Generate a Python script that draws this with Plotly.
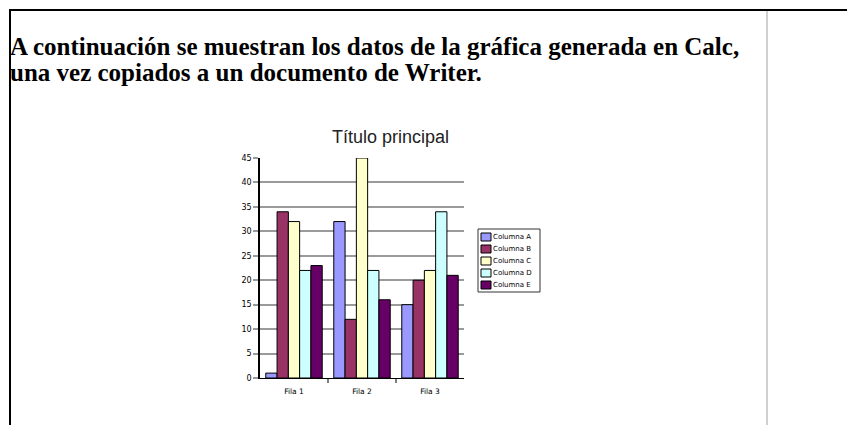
import plotly.graph_objects as go

# Chart data
categorias = ["Fila 1", "Fila 2", "Fila 3"]
series = ["Columna A", "Columna B", "Columna C", "Columna D", "Columna E"]
columna_a = [1, 32, 15]
columna_b = [34, 12, 20]
columna_c = [32, 45, 22]
columna_d = [22, 22, 34]
columna_e = [23, 16, 21]
valores = [columna_a, columna_b, columna_c, columna_d, columna_e]
colores = ["#9999ff", "#993366", "#ffffcc", "#ccffff", "#660066"]
y_ticks = [0, 5, 10, 15, 20, 25, 30, 35, 40, 45]

W, H = 847, 425
PL, PR, PT, PB = 260, 464, 158, 378  # plot area in pixels

FONT = "Arial, Liberation Sans, sans-serif"
SMALL = "DejaVu Sans, Verdana, sans-serif"


def px(x):
    return (x - PL) / (PR - PL)


def py(y):
    return (PB - y) / (PB - PT)


fig = go.Figure()
for nombre, vals, color in zip(series, valores, colores):
    fig.add_trace(go.Bar(
        x=categorias, y=vals, name=nombre,
        marker=dict(color=color, line=dict(color="#000000", width=1)),
    ))

fig.update_layout(
    width=W, height=H,
    margin=dict(l=PL, r=W - PR, t=PT, b=H - PB, pad=0),
    paper_bgcolor="white", plot_bgcolor="white",
    barmode="group", bargap=0.17, bargroupgap=0,
    showlegend=False,
    xaxis=dict(
        showgrid=False, showline=True, linecolor="#000000", linewidth=1,
        ticks="", tickfont=dict(family=SMALL, size=7.5, color="#000000"),
        ticklabelstandoff=6,
    ),
    yaxis=dict(
        range=[0, 45], tickvals=y_ticks, showgrid=True, gridcolor="#9a9a9a", gridwidth=2,
        showline=True, linecolor="#000000", linewidth=1.5, zeroline=False,
        ticks="outside", ticklen=5, tickcolor="#9a9a9a", tickwidth=2,
        tickfont=dict(family=SMALL, size=8, color="#000000"),
    ),
    font=dict(family=FONT),
)

# Category separator ticks below the x axis
for b in [0.5, 1.5]:
    fig.add_shape(type="line", xref="x", yref="paper", x0=b, x1=b, y0=0, y1=py(PB + 5),
                  line=dict(color="#000000", width=1))

# Chart title
fig.add_annotation(text="Título principal", xref="paper", yref="paper",
                   x=px(390), y=py(137), xanchor="center", yanchor="middle",
                   showarrow=False,
                   font=dict(family=FONT, size=18, color="#222222"))

# Compact legend box on the right of the plot
LX0, LX1, LY0, LY1 = 478, 540, 229, 292
fig.add_shape(type="rect", xref="paper", yref="paper",
              x0=px(LX0), x1=px(LX1), y0=py(LY0), y1=py(LY1),
              line=dict(color="#333333", width=1), fillcolor="white")
for i, (nombre, color) in enumerate(zip(series, colores)):
    yc = LY0 + 8 + i * 12
    fig.add_shape(type="rect", xref="paper", yref="paper",
                  x0=px(LX0 + 3), x1=px(LX0 + 13), y0=py(yc - 4), y1=py(yc + 4),
                  line=dict(color="#000000", width=1), fillcolor=color)
    fig.add_annotation(text=nombre, xref="paper", yref="paper",
                       x=px(LX0 + 13), y=py(yc), xanchor="left", yanchor="middle",
                       showarrow=False, font=dict(family=SMALL, size=7, color="#000000"))

# Document frame lines
fig.add_shape(type="line", xref="paper", yref="paper", x0=px(9), x1=px(W + 5), y0=py(10), y1=py(10),
              line=dict(color="#000000", width=2))
fig.add_shape(type="line", xref="paper", yref="paper", x0=px(10), x1=px(10), y0=py(9), y1=py(H + 5),
              line=dict(color="#000000", width=2))
fig.add_shape(type="line", xref="paper", yref="paper", x0=px(767), x1=px(767), y0=py(11), y1=py(H + 5),
              line=dict(color="#d0d0d0", width=2))

# Document text
for texto, ycen in [("A continuación se muestran los datos de la gráfica generada en Calc,", 47),
                    ("una vez copiados a un documento de Writer.", 72)]:
    fig.add_annotation(text="<b>" + texto + "</b>", xref="paper", yref="paper",
                       x=px(8), y=py(ycen), xanchor="left", yanchor="middle",
                       showarrow=False,
                       font=dict(family="Liberation Serif, Times New Roman, serif", size=25, color="#000000"))

fig.write_html("out.html")
